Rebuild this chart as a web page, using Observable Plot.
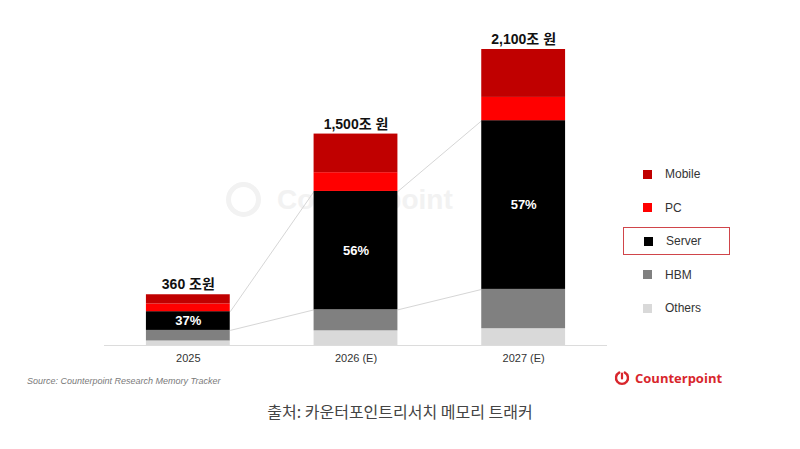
<!DOCTYPE html>
<html>
<head>
<meta charset="utf-8">
<script src="https://cdn.jsdelivr.net/npm/d3@7"></script>
<script src="https://cdn.jsdelivr.net/npm/@observablehq/plot@0.6"></script>
<style>
  html, body { margin: 0; padding: 0; background: #fff; }
  #page { position: relative; width: 800px; height: 449px; overflow: hidden;
          font-family: "Liberation Sans", Arial, "Noto Sans CJK KR", sans-serif; }
  #chart { position: absolute; left: 0; top: 0; z-index: 1; }
  .watermark { position: absolute; left: 226px; top: 182px; z-index: 0; display: flex; align-items: center;
               color: #f2f2f2; font: bold 28px "Liberation Sans", Arial, sans-serif; }
  .watermark .ring { width: 25px; height: 25px; border: 5px solid #f2f2f2; border-radius: 50%; margin-right: 16px; }
  .legend { position: absolute; left: 623px; top: 160px; z-index: 2; }
  .legend .item { position: absolute; left: 0; width: 107px; height: 28px; display: flex; align-items: center;
                  font-size: 12px; color: #333; box-sizing: border-box; }
  .legend .sw { width: 9px; height: 9px; margin-left: 20px; margin-right: 13px; }
  .legend .boxed { border: 1.5px solid #d0454a; }
  .source { position: absolute; left: 27px; top: 376px; font-size: 9px; font-style: italic; color: #7a7a7a; }
  .brand { position: absolute; left: 614px; top: 369px; display: flex; align-items: center;
           color: #d8262c; font: bold 13px "Open Sans", "Liberation Sans", sans-serif; }
  .brand svg { margin-right: 5px; }
  .caption { position: absolute; left: 0; width: 800px; top: 399px; text-align: center;
             font: 16px "Noto Sans CJK KR", sans-serif; color: #444; }
</style>
</head>
<body>
<div id="page">
  <div class="watermark"><div class="ring"></div>Counterpoint</div>
  <div id="chart"></div>
  <div class="legend" id="legend"></div>
  <div class="source">Source: Counterpoint Research Memory Tracker</div>
  <div class="brand">
    <svg width="16" height="16" viewBox="0 0 16 16">
      <path d="M5.2 2.6 A6 6 0 1 0 10.8 2.6" fill="none" stroke="#d8262c" stroke-width="2.4" stroke-linecap="round"/>
      <path d="M8 3.5 L8 8.5" stroke="#d8262c" stroke-width="2.2" stroke-linecap="round"/>
    </svg>Counterpoint</div>
  <div class="caption">출처: 카운터포인트리서치 메모리 트래커</div>
</div>
<script>
// Memory market size by application, in 조 원
const years = ["2025", "2026 (E)", "2027 (E)"];
const totals = [360, 1500, 2100];
const totalLabels = ["360 조원", "1,500조 원", "2,100조 원"];
const serverShare = [37, 56, 57];

// Stack order, bottom to top
const segments = ["Others", "HBM", "Server", "PC", "Mobile"];
const others = [32, 104, 119];
const hbm = [75, 149, 279];
const server = [133, 840, 1197];
const pc = [55, 133, 165];
const mobile = [65, 274, 340];

const colors = {Mobile: "#c00000", PC: "#ff0000", Server: "#000000", HBM: "#808080", Others: "#d9d9d9"};
const legendOrder = ["Mobile", "PC", "Server", "HBM", "Others"];

const series = {Others: others, HBM: hbm, Server: server, PC: pc, Mobile: mobile};

// Build stacked rows with explicit y1/y2
const rows = [];
years.forEach((year, i) => {
  let base = 0;
  for (const s of segments) {
    const v = series[s][i];
    rows.push({i, year, segment: s, value: v, y1: base, y2: base + v});
    base += v;
  }
});

const serverRows = rows.filter(d => d.segment === "Server");
const half = 0.25;

// Connectors between the Server segments of neighbouring bars
const links = [];
for (let i = 0; i < years.length - 1; i++) {
  const a = serverRows[i], b = serverRows[i + 1];
  links.push({x1: i + half, x2: i + 1 - half, y1: a.y2, y2: b.y2});
  links.push({x1: i + half, x2: i + 1 - half, y1: a.y1, y2: b.y1});
}

const totalsData = years.map((year, i) => ({i, total: totals[i], label: totalLabels[i]}));

const chart = Plot.plot({
  width: 800,
  height: 372,
  marginLeft: 104,
  marginRight: 193,
  marginTop: 49,
  marginBottom: 27,
  style: {background: "transparent", fontSize: "11px", color: "#333",
          fontFamily: "'Liberation Sans', Arial, 'Noto Sans CJK KR', sans-serif"},
  x: {domain: [-0.5, 2.5], ticks: [0, 1, 2], tickFormat: i => years[i], tickSize: 0, tickPadding: 9, label: null},
  y: {domain: [0, 2100], axis: null},
  color: {domain: Object.keys(colors), range: Object.values(colors)},
  marks: [
    Plot.link(links, {x1: "x1", x2: "x2", y1: "y1", y2: "y2", stroke: "#d6d6d6", strokeWidth: 1}),
    Plot.ruleY([0], {stroke: "#dcdcdc", strokeWidth: 1}),
    Plot.rectY(rows, {x1: d => d.i - half, x2: d => d.i + half, y1: "y1", y2: "y2", fill: "segment"}),
    Plot.text(serverRows, {
      x: "i", y: d => (d.y1 + d.y2) / 2, text: d => serverShare[d.i] + "%",
      fill: "white", fontWeight: "bold", fontSize: 13
    }),
    Plot.text(totalsData, {
      x: "i", y: "total", text: "label", dy: -10,
      fill: "#111", fontWeight: "bold", fontSize: 14
    })
  ]
});
document.getElementById("chart").appendChild(chart);

// Right-hand legend
const legend = document.getElementById("legend");
legendOrder.forEach((name, k) => {
  const item = document.createElement("div");
  item.className = "item" + (name === "Server" ? " boxed" : "");
  item.style.top = (k * 33.5) + "px";
  const sw = document.createElement("span");
  sw.className = "sw";
  sw.style.background = colors[name];
  item.appendChild(sw);
  item.appendChild(document.createTextNode(name));
  legend.appendChild(item);
});
</script>
</body>
</html>
